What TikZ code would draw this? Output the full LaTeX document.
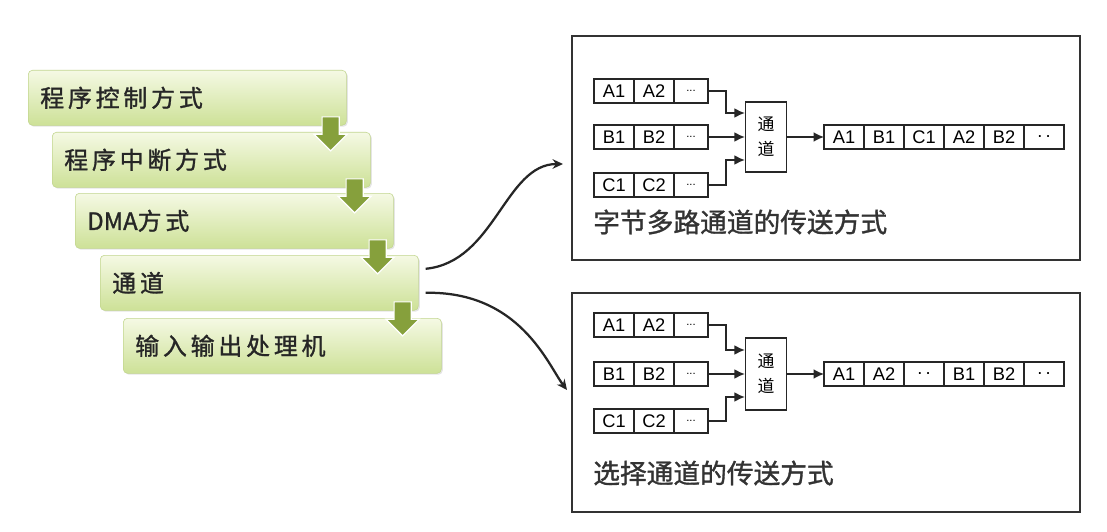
\documentclass[tikz,border=0pt]{standalone}
\usepackage{fontspec}
\setmainfont{Liberation Sans}
\newfontfamily\cjk[FakeBold=1.2]{Noto Sans CJK SC}
\newfontfamily\cjkthin{Noto Sans CJK SC}
\newfontfamily\cjkwide[LetterSpace=16, FakeBold=1.2]{Noto Sans CJK SC}
\usepackage{xcolor}
\usepackage{tikz}
\usetikzlibrary{shapes.arrows, arrows.meta, positioning, shadows, calc}

\definecolor{boxtop}{HTML}{F5F9E4}
\definecolor{boxbot}{HTML}{CDE197}
\definecolor{boxline}{HTML}{C2D68E}
\definecolor{arrowgreen}{HTML}{86A03C}
\definecolor{panelline}{HTML}{333333}

\begin{document}
\begin{tikzpicture}[
        x=0.025cm, y=-0.025cm,
        mode/.style={rectangle, rounded corners=3pt, draw=boxline, top color=boxtop, bottom color=boxbot,
            minimum width=7.95cm, minimum height=1.375cm, text width=7.35cm, align=left, inner xsep=0.3cm,
            font=\cjkwide\fontsize{17}{20}\selectfont, text=black!85,
            drop shadow={opacity=0.2, shadow xshift=1pt, shadow yshift=-1pt}},
        downarrow/.style={single arrow, rotate=-90, fill=arrowgreen, draw=white, line width=0.8pt,
            minimum height=0.85cm, single arrow head extend=0.2cm, inner xsep=0pt, inner ysep=0.2cm},
        panel/.style={rectangle, draw=panelline, line width=1.5pt, minimum width=12.7cm},
        cell/.style={rectangle, draw=black!85, line width=0.9pt, minimum width=1cm, minimum height=0.6cm,
            inner sep=0pt, outer sep=0pt, font=\fontsize{13}{13}\selectfont},
        dotcell/.style={cell, minimum width=0.85cm, font=\fontsize{8}{8}\selectfont},
        chan/.style={rectangle, draw=black!85, line width=0.9pt, minimum width=1.025cm, align=center,
            inner sep=0pt, font=\cjkthin\fontsize{12}{18}\selectfont},
        flow/.style={-{Latex[length=2.6mm, width=2.4mm]}, line width=0.9pt, black!85},
        capt/.style={anchor=west, inner sep=0pt, font=\cjk\fontsize{19}{19}\selectfont, text=black!80},
        link/.style={-{Stealth[length=2.6mm, width=2.4mm]}, line width=1.6pt, black!85}
    ]
        \useasboundingbox[fill=white] (0,0) rectangle (1107,532);

        % left: the five ways of I/O control
        \node[mode, anchor=north west] (m1) at (28,70) {程序控制方式};
        \node[mode, anchor=north west] (m2) at (52,132) {程序中断方式};
        \node[mode, anchor=north west] (m3) at (75,193) {{\cjk DMA}方式};
        \node[mode, anchor=north west] (m4) at (100,255) {通道};
        \node[mode, anchor=north west] (m5) at (123,318) {输入输出处理机};
        \foreach \i in {1,...,4}
            \node[downarrow] (d\i) at ($(m\i.south east)+(-16,4)$) {};

        % right: two panels
        \node[panel, minimum height=5.6cm] (p1) at (826,148) {};
        \node[panel, minimum height=5.475cm] (p2) at (826,402.5) {};

        % byte multiplexer channel
        \foreach \r/\R/\y in {a/A/91, b/B/137, c/C/185} {
            \node[cell] (t\r1) at (614,\y) {\R1};
            \node[cell, right=0pt of t\r1] (t\r2) {\R2};
            \node[dotcell, right=0pt of t\r2] (t\r3) {...};
        }
        \node[chan, minimum height=1.75cm] (tch) at (766,137) {通\\道};
        \foreach \l [count=\i] in {A1,B1,C1,A2,B2,{.\,.}}
            \node[cell] (to\i) at (804+40*\i,137) {\l};
        \draw[flow] (ta3.east) -- ++(18,0) |- ($(tch.west)+(0,-24)$);
        \draw[flow] (tb3.east) -- (tch.west);
        \draw[flow] (tc3.east) -- ++(18,0) |- ($(tch.west)+(0,23)$);
        \draw[flow] (tch.east) -- (to1.west);
        \node[capt] (tcap) at (593,222) {字节多路通道的传送方式};

        % selector channel
        \foreach \r/\R/\y in {a/A/325, b/B/374, c/C/421} {
            \node[cell] (s\r1) at (614,\y) {\R1};
            \node[cell, right=0pt of s\r1] (s\r2) {\R2};
            \node[dotcell, right=0pt of s\r2] (s\r3) {...};
        }
        \node[chan, minimum height=1.8cm] (sch) at (766,374) {通\\道};
        \foreach \l [count=\i] in {A1,A2,{.\,.},B1,B2,{.\,.}}
            \node[cell] (so\i) at (804+40*\i,374) {\l};
        \draw[flow] (sa3.east) -- ++(18,0) |- ($(sch.west)+(0,-24)$);
        \draw[flow] (sb3.east) -- (sch.west);
        \draw[flow] (sc3.east) -- ++(18,0) |- ($(sch.west)+(0,23)$);
        \draw[flow] (sch.east) -- (so1.west);
        \node[capt] (scap) at (593,473) {选择通道的传送方式};

        % links from the channel box
        \coordinate (e1) at (563,164);
        \coordinate (e2) at (567,390);
        \draw[link] ($(m4.east)+(7,-14)$) .. controls (495,262) and (505,164) .. (e1);
        \draw[link] ($(m4.east)+(7,10)$) .. controls (520,291) and (548,365) .. (e2);
    \end{tikzpicture}
\end{document}
